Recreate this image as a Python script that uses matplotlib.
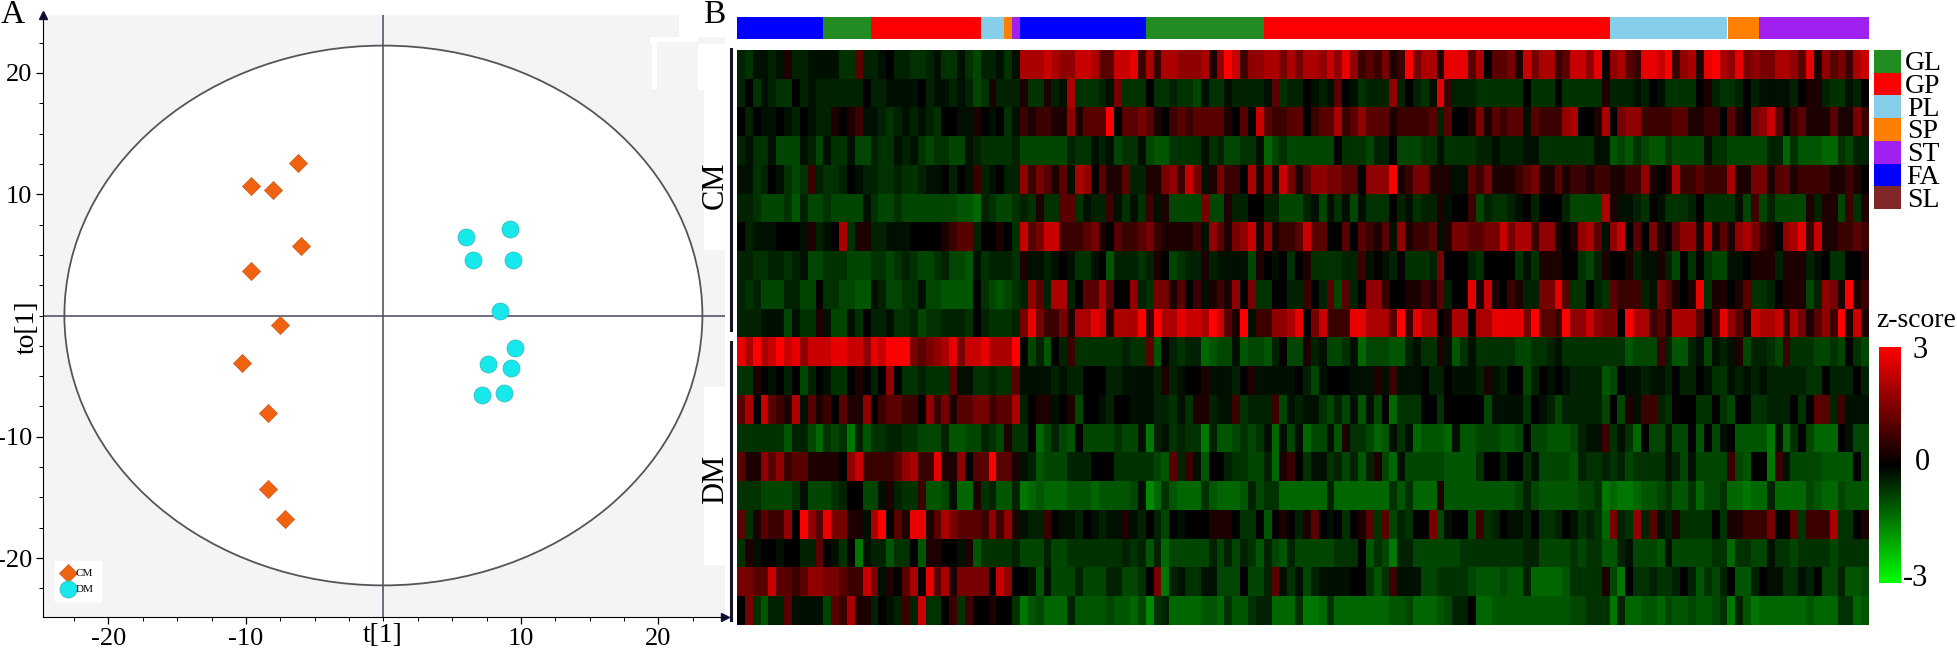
import matplotlib
matplotlib.use("Agg")
import matplotlib.pyplot as plt
from matplotlib.colors import LinearSegmentedColormap
from matplotlib.patches import Ellipse, Rectangle
import numpy as np

plt.rcParams['font.family'] = ['Liberation Serif', 'DejaVu Serif']
plt.rcParams['axes.unicode_minus'] = False

W, H = 1958, 652

# score plot, panel A
cm_t = [-6.2, -9.65, -8.0, -6.0, -9.6, -7.5, -10.3, -8.4, -8.4, -7.15]
cm_to = [12.6, 10.7, 10.35, 5.7, 3.7, -0.76, -3.9, -8.0, -14.3, -16.8]
dm_t = [6.0, 9.2, 6.5, 9.4, 8.5, 9.6, 7.6, 9.3, 7.2, 8.8]
dm_to = [6.5, 7.15, 4.6, 4.55, 0.4, -2.65, -4.0, -4.3, -6.55, -6.4]
ticks = [-20, -10, 10, 20]
ellipse_t = 23.2
ellipse_to = 22.25

# class strip above the heatmap
strip_classes = ['FA', 'GL', 'GP', 'PL', 'SP', 'ST', 'FA', 'GL', 'GP', 'PL', 'SP', 'ST']
strip_counts = [11, 6, 14, 3, 1, 1, 16, 15, 44, 15, 4, 14]
legend_classes = ['GL', 'GP', 'PL', 'SP', 'ST', 'FA', 'SL']
class_colors = {'GL': '#228b22', 'GP': '#ff0000', 'PL': '#87ceeb', 'SP': '#ff7f00',
                'ST': '#a020f0', 'FA': '#0000ff', 'SL': '#802828'}

red_levels = {'1': 0.35, '2': 0.7, '3': 1.05, '4': 1.4, '5': 1.7, '6': 2.0, '7': 2.35, '8': 2.7, '9': 3.0}
green_levels = {'a': -0.2, 'b': -0.4, 'c': -0.6, 'd': -0.8, 'e': -1.0, 'f': -1.2, 'g': -1.4, 'h': -1.6, 'i': -1.8}
heat_rows = [
    "bcaaba1bbaaa acc3bba0bbcc baccacdbbaca 666765577633 778262665556 159725566464 665758523241 294661888360 334174662377 580563288792 561896584544 665381534267",
    "b0cabcc0babb bbbb0bbaaaa0 baababdc1bbb 1cc1ba6cccba 4ccc0ccbccda ccabbbba3cbb 0aba30acbbb5 b0bca82bbbcc cccc0ccc0ccc cc1bbbab0acc cc01bccb0baa aab011bccab0",
    "0b0aa0ab0abb 1012aabcbaba bc00aa10a0ca 212211513339 033431023233 331030732233 023362353331 22223b300141 3233a3222560 016045522223 311220310457 302311131142",
    "baccadddabda ccaddbccabac dccddabccccb ddddddbccaba dccadeecccca cbddccafdcdd dddd0cccdbb0 dddccaccccbb abbbaacccccc caaedecdeecd dddaccdddddb bfceeeffcdbb",
    "aacb0acdc2bc cb0abbccbccb aa0b0a2ba0bb 524313a65031 13bb1145274a 142206151741 355443305559 1244111aa324 111234113122 122112251016 223222611441 331222211210",
    "bbcdddcebddc ddddacddcddd ddddeefbcddc bc1cc33cabb2 acac2a1dddd4 dd1bb00bbddd badacadaccc0 bacbb1a002db ccba0b000bdd dd61aabc0acc cb0ccccad2db dddd1b11d2c1",
    "0baaa000a1ba 06c11bbaaa00 001233b0010c 734772223410 32234211112a 531457151223 73300303213a 51223a144334 474662551015 63a570304103 551613156421 056827112232",
    "bbccbbcbaddc ccdddccdcbcd dcbddeacbbbc 1aaba0acca0e bbbcb10dcbb1 baaaad10a0c0 1ccccbb2a0ab 0cccb4000bc0 000cac11100c db1001baa1bd 0c0cddaa0111 b111ba0cc001",
    "bcbdddbbdd0c cddeeabddcca ddeeee0cdedc b53b66b03363 005bc441302a 121504cc00bb 20b3d3b05520 011213b00817 1021bb4483cc 0bc3222ba431 018c11013ccb 0111db541912",
    "bbbaaadacc1a ddac0bbaccbd ccbbbc0bcccb 484224166871 666929668776 97319a225568 047222886663 928660166066 888849332955 754409662316 663028531766 726413529171",
    "869679785777 887758799943 456847786669 0dbe0b2ccccc cbcc3e0bcbbf eddaeddeb0dd 1baddcafddde ebacc1aecacc cccddccbaccc ccccceddd2be ebadaba1dbbc d2cccddcd0cd",
    "cc10a0b0db0a cc010b050ccb ccc3aaccbcc3 aaaababb000b baaaab1ba001 aaab01aaaaa0 bda000aaa1a2 aaa0bb0aaab1 ab00db0a0abb bbed0aabaab0 bb0accababab bbbbcc0bbb0b",
    "36073216a312 031150233220 524133442336 b011a01d00ab 00aaabbcac11 baa2cbbb2dab aacdbdaead0f ccc00c00000d aaaac0abdbbb bbd0d1a22bc0 00cc0cd00ccb bb0c033b2aaa",
    "ccccccebbdfc dcgbeccbbccd ddbeeddbcd1c c0fdbde0dddd cddagbacbccg beedcdcafada fddae1ccdfea cafeeefaeedd deed0ddeeedb aa2cacf0ddad d0e0da0eeeeg afc0dfff0add",
    "311535233111 105722223562 281150339331 abedddbbb000 cccccde3b2ae 00bccddbf120 caacbdbeb1df adddddeeeec0 0b00caddddeb ccbcbdccccab dadddd2de00g 2addddeeee0d",
    "cccddddcaddd cb00dda1bcc2 eedaff1cbeeb gfefffeeefee eedahfcefffc efffebdccfff fffbfffffffc ecfff1eeeeee eeedbdeeeeed dcgfggfeedce ecfddcffgffb ffffdeffdeee",
    "3c1322509538 4411a6903188 136433325251 abb20aab0aba a1ab0bd0a000 1110cc0e010b 130a0c013c3d bc004da00d2c b0aab0ccb0ac bcf4bc5b3ab1 cccc0c112224 003c2226cc01",
    "c1a00a00bb30 ac0gabbecc0e 1100a1eccccb dddbddcccccc cbcbebfddddd bdbdbcebdebd ddddccc0ecdg bbddddddcccc ccccbbddddcd cceebadddead ddddccfccdda ccdccccdcccc",
    "443373323554 432274a10360 836144440750 0aeadddbdddb bddc04gbacca addd0ddb3aca dbaaaa00cec2 aaaddccccdee edeebffffecc cc1dg0ccbccb 0becdb0eeb0a accab0ddbeed",
    "04cebb3aaaad 32611b0ab2b7 cc02c200100c gedfffbeeeed eefdhcbffffe efceecbbfffc ggfcfffffffe edfffedbb0ff eeeeeeeeeedd cccgbffeefde edeedcgbegff ffffefffccfe",
]
levels = {'0': 0.0, **red_levels, **green_levels}
heat = np.array([[levels[c] for c in row.replace(' ', '')] for row in heat_rows])

red_green = LinearSegmentedColormap.from_list('rg', ['#00ff00', '#000000', '#ff0000'])


def px_axes(left, top, right, bottom):
    return fig.add_axes([left / W, 1 - bottom / H, (right - left) / W, (bottom - top) / H])


def px_text(x, y, s, **kw):
    kw.setdefault('ha', 'center')
    kw.setdefault('va', 'center')
    fig.text(x / W, 1 - y / H, s, **kw)


fig = plt.figure(figsize=(W / 100, H / 100), dpi=100)

# panel A
ax = px_axes(43, 15, 725, 617)
ax.set_facecolor('#f4f4f4')
ax.set_xlim((43 - 383.4) / 13.75, (725 - 383.4) / 13.75)
ax.set_ylim((315.5 - 617) / 12.13, (315.5 - 15) / 12.13)
ax.add_patch(Ellipse((0, 0), 2 * ellipse_t, 2 * ellipse_to, fc='white', ec='#555555', lw=1.3, zorder=1))
ax.axhline(0, color='#55556a', lw=1.2, zorder=2)
ax.axvline(0, color='#55556a', lw=1.2, zorder=2)
ax.scatter(cm_t, cm_to, marker='D', s=85, c='#f0620f', edgecolors='#c85a20', linewidths=0.5, zorder=3, label='CM')
ax.scatter(dm_t, dm_to, marker='o', s=150, c='#16e8ec', edgecolors='#30b8b8', linewidths=0.5, zorder=3, label='DM')
ax.set_xticks(ticks)
ax.set_yticks(ticks)
ax.set_xticks(np.arange(-22.5, 25, 2.5), minor=True)
ax.set_yticks(np.arange(-22.5, 25, 2.5), minor=True)
ax.tick_params(which='major', labelsize=19, length=5, width=0.9, pad=3)
ax.tick_params(which='minor', length=3, width=0.7)
ax.spines['top'].set_visible(False)
ax.spines['right'].set_visible(False)
ax.plot([1], [0], '>', color='#10103a', ms=6, transform=ax.transAxes, clip_on=False)
ax.plot([0], [1], '^', color='#10103a', ms=6, transform=ax.transAxes, clip_on=False)
ax.legend(loc='lower left', bbox_to_anchor=(0.0176, 0.026), fontsize=8, frameon=True, fancybox=False,
          framealpha=1, edgecolor='white', borderpad=0.65, labelspacing=0.6, handlelength=1,
          handletextpad=0.2, markerscale=1, borderaxespad=0)
px_text(383, 635, 't[1]', fontsize=20)
px_text(27, 327, 'to[1]', fontsize=20, rotation=90)
px_text(13, 15, 'A', fontsize=24)
px_text(714, 15, 'B', fontsize=24)

# white scraps left over between the two panels
for l, t, r, b in [(679, 0, 725, 37), (650, 37, 698, 42), (652, 37, 657, 89),
                   (698, 44, 725, 90), (704, 90, 725, 250), (704, 387, 725, 565)]:
    fig.add_artist(Rectangle((l / W, 1 - b / H), (r - l) / W, (b - t) / H, fc='white', ec='none',
                             transform=fig.transFigure))

# class strip
strip = px_axes(737, 17, 1869, 39)
left = 0
for cls, n in zip(strip_classes, strip_counts):
    strip.barh(0, n, left=left, height=1, color=class_colors[cls], antialiased=False)
    left += n
strip.set_xlim(0, sum(strip_counts))
strip.set_ylim(-0.5, 0.5)
strip.axis('off')

# heatmap
hm = px_axes(737, 50, 1869, 625)
hm.imshow(heat, cmap=red_green, vmin=-3, vmax=3, aspect='auto', interpolation='nearest')
hm.axis('off')

# group brackets
for y0, y1 in [(49, 330), (342, 620)]:
    fig.add_artist(plt.Line2D([731 / W, 731 / W], [1 - y0 / H, 1 - y1 / H], color='#151525', lw=2.2,
                              transform=fig.transFigure))
px_text(715, 185, 'CM', fontsize=22, rotation=90)
px_text(716, 479, 'DM', fontsize=22, rotation=90)

# class legend
lg = px_axes(1874, 50, 1901, 209)
for i, cls in enumerate(legend_classes):
    lg.barh(i, 1, height=1, color=class_colors[cls], antialiased=False)
    px_text(1923, 50 + 22.8 * (i + 0.5) + 2, cls, fontsize=20)
lg.set_xlim(0, 1)
lg.set_ylim(len(legend_classes) - 0.5, -0.5)
lg.axis('off')

# colour key
cb = px_axes(1879, 347, 1901, 583)
cb.imshow(np.linspace(3, -3, 256).reshape(-1, 1), cmap=red_green, vmin=-3, vmax=3, aspect='auto')
cb.axis('off')
px_text(1916, 320, 'z-score', fontsize=20)
px_text(1920, 350, '3', fontsize=22)
px_text(1922, 463, '0', fontsize=22)
px_text(1916, 579, '-3', fontsize=22)

fig.savefig('out.png', dpi=100)
